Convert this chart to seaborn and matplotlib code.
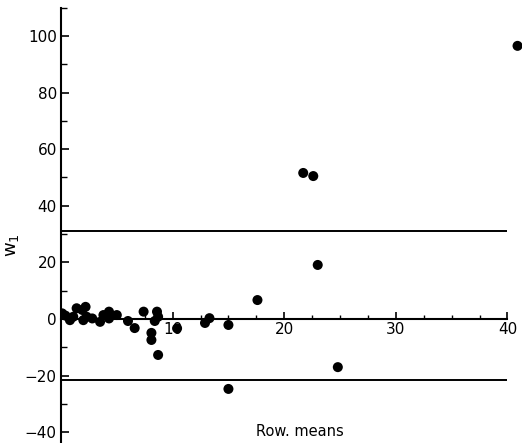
import numpy as np
import pandas as pd
import matplotlib
matplotlib.use("Agg")
import matplotlib.pyplot as plt
import seaborn as sns
from matplotlib.ticker import MultipleLocator

# Row means (x) and W1 values (y)
row_means = [0.1, 0.4, 0.8, 1.1, 1.4, 1.9, 2.2, 2.0, 2.3, 2.8, 3.5, 3.8, 4.3, 4.3,
             5.0, 6.0, 6.6, 7.4, 8.1, 8.1, 8.6, 8.7, 8.4, 8.7, 10.4,
             12.9, 13.3, 15.0, 15.0, 17.6, 21.7, 22.6, 23.0, 24.8, 40.9]
w1 = [2.0, 1.2, -0.4, 0.8, 3.8, 3.2, 4.3, -0.4, 0.8, 0.2, -1.0, 1.4, 2.6, 0.2,
      1.4, -0.7, -3.2, 2.6, -4.9, -7.4, 2.6, 0.8, -0.7, -12.7, -3.3,
      -1.4, 0.3, -2.1, -24.7, 6.7, 51.6, 50.5, 19.1, -17.0, 96.5]

upper_limit = 31.1
lower_limit = -21.6

df = pd.DataFrame({"row_means": row_means, "w1": w1})

sns.set_style("ticks")
plt.rcParams["font.family"] = ["DejaVu Sans"]
plt.rcParams["text.color"] = "black"
plt.rcParams["xtick.color"] = "black"
plt.rcParams["ytick.color"] = "black"

fig = plt.figure(figsize=(5.22, 4.43), dpi=100)
ax = fig.add_axes([61 / 522, 0, 1 - 61 / 522, 1])

sns.scatterplot(data=df, x="row_means", y="w1", color="black", s=52,
                edgecolor="none", ax=ax, zorder=3)

ax.hlines([upper_limit, lower_limit], 0, 40, color="black", linewidth=1.4)

ax.set_xlim(0, 41.3)
ax.set_ylim(-43.8, 112.7)

ax.spines["top"].set_visible(False)
ax.spines["right"].set_visible(False)
ax.spines["bottom"].set_position(("data", 0))
ax.spines["bottom"].set_bounds(0, 40)
ax.spines["left"].set_bounds(-44, 110)
for s in ["bottom", "left"]:
    ax.spines[s].set_linewidth(1.5)
    ax.spines[s].set_color("black")

ax.set_xticks([10, 20, 30, 40])
ax.xaxis.set_minor_locator(MultipleLocator(2.5))
ax.set_yticks([-40, -20, 0, 20, 40, 60, 80, 100])
ax.yaxis.set_minor_locator(MultipleLocator(10))

ax.tick_params(axis="x", which="major", direction="in", length=5, width=1.2,
               labelsize=11, pad=2, labelcolor="black")
ax.tick_params(axis="x", which="minor", direction="in", length=3, width=1)
ax.tick_params(axis="y", which="major", direction="in", length=6, width=1.2,
               labelsize=11, pad=3, labelcolor="black")
ax.tick_params(axis="y", which="minor", direction="in", length=4, width=1)

ax.set_xlabel("")
ax.set_ylabel("")
fig.text(300 / 522, 1 - 432 / 443, "Row. means", ha="center", va="center",
         fontsize=10.5, color="black")
fig.text(12 / 522, 1 - 245 / 443, r"$\mathsf{w_1}$", ha="center", va="center",
         rotation=90, fontsize=13, color="black")

fig.savefig("out.png", dpi=100, facecolor="white")
